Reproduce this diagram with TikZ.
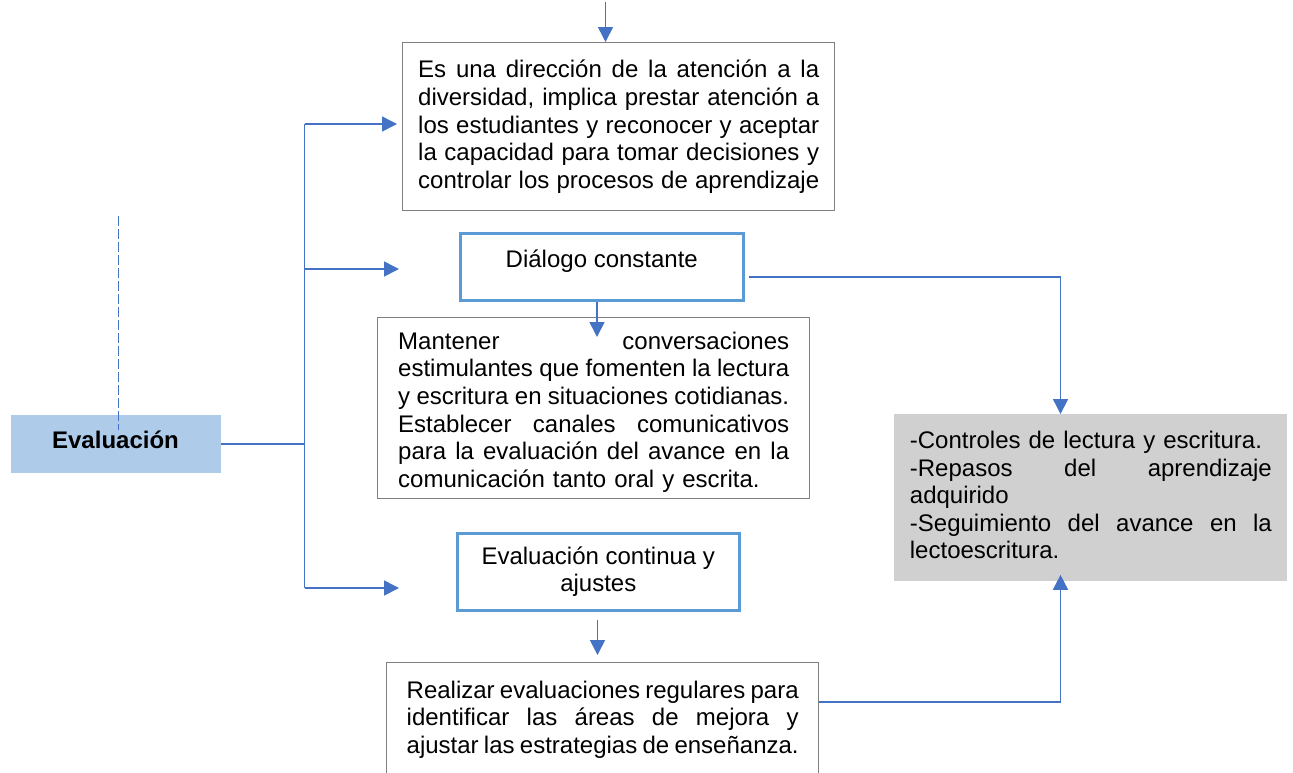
\documentclass[tikz,border=0pt]{standalone}
\usepackage{fontspec}
\setmainfont{Liberation Sans}
\usetikzlibrary{arrows.meta}

\definecolor{linkblue}{RGB}{68,114,196}
\definecolor{frameblue}{RGB}{91,155,213}
\definecolor{evalblue}{RGB}{174,204,234}
\definecolor{notegray}{RGB}{208,208,208}
\definecolor{framegray}{RGB}{127,127,127}

\newlength{\fitw}
\newcommand{\fitline}[1]{\makebox[\fitw][s]{\spaceskip=.278em plus 1fil minus .093em\relax#1}}

\tikzset{
  txt/.style={font=\fontsize{12pt}{13.8pt}\selectfont, anchor=north west, inner ysep=0pt},
  fitw/.style={text width=#1, execute at begin node={\setlength{\fitw}{#1}}},
  textbox/.style={txt, draw=framegray, line width=0.7pt, align=left, inner xsep=10.25pt},
  keybox/.style={txt, draw=frameblue, line width=1.3pt},
  notebox/.style={txt, fill=notegray, align=left},
  connector/.style={draw=linkblue, line width=0.8pt},
  arr/.style={connector, -{Triangle[length=7.5pt,width=7.5pt]}},
}

\begin{document}
\begin{tikzpicture}[x=0.5pt, y=-0.5pt]
  \useasboundingbox (0,0) rectangle (1293,772);

  \node[fill=evalblue, minimum width=105pt, inner ysep=0pt, text height=16.75pt, text depth=12.25pt,
        font=\fontsize{12pt}{13.8pt}\selectfont\bfseries] (eval) at (115.5,444) {Evaluación};

  \node[textbox, inner xsep=7.75pt, fitw=200.5pt, minimum height=84pt] (dir) at (402,42) {%
    \fitline{Es una dirección de la atención a la}\\
    \fitline{diversidad, implica prestar atención a}\\
    \fitline{los estudiantes y reconocer y aceptar}\\
    \fitline{la capacidad para tomar decisiones y}\\
    \fitline{controlar los procesos de aprendizaje}};
  \node[keybox, minimum width=141.5pt, text height=17.25pt, text depth=16.25pt] (dialogo) at (459,232) {Diálogo constante};
  \node[textbox, fitw=195.5pt, minimum height=90.5pt] (mantener) at (377,317) {%
    \fitline{\rule{0pt}{12.6pt}Mantener conversaciones}\\
    \fitline{estimulantes que fomenten la lectura}\\
    \fitline{y escritura en situaciones cotidianas.}\\
    \fitline{Establecer canales comunicativos}\\
    \fitline{para la evaluación del avance en la}\\
    comunicación tanto oral y escrita.};
  \node[keybox, minimum width=141pt, minimum height=38.5pt, align=center] (continua) at (456,532) {Evaluación continua y\\ajustes};
  \node[textbox, inner xsep=10pt, inner ysep=9pt, fitw=196pt, text depth=45pt] (realizar) at (386,662) {%
    \fitline{Realizar evaluaciones regulares para}\\
    \fitline{identificar las áreas de mejora y}\\
    \fitline{ajustar las estrategias de enseñanza.}};
  \node[notebox, inner xsep=7.75pt, fitw=181pt, minimum height=83.5pt] (repaso) at (894,414) {%
    -Controles de lectura y escritura.\\
    \fitline{-Repasos del aprendizaje}\\
    adquirido\\
    \fitline{-Seguimiento del avance en la}\\
    lectoescritura.\rule[-3pt]{0pt}{3pt}};

  \coordinate (top) at (605.5,2);
  \coordinate (trunk) at (304.5,124);
  \coordinate (trunkend) at (304.5,588);
  \coordinate (a2) at (399,269);
  \coordinate (a3) at (399,588);
  \coordinate (m1) at (597,337);
  \coordinate (c1) at (597.5,655);
  \coordinate (r1) at (1060.5,0);
  \coordinate (dash) at (118.5,216);

  % tronco de la izquierda
  \draw[connector] (eval.east) -- (eval.east -| trunk);
  \draw[connector] (trunk) -- (trunkend);
  \draw[connector, dash pattern=on 5pt off 1.5pt] (dash) -- ([yshift=7pt]dash |- eval.center);

  \draw[arr] (top) -- (top |- dir.north);
  \draw[arr] (trunk) -- ([xshift=-2.5pt]dir.west |- trunk);
  \draw[arr] (trunk |- a2) -- (a2);
  \draw[arr] (trunkend) -- (a3);
  \draw[arr] (dialogo.south -| m1) -- (m1); %
  \draw[arr] ([yshift=-4pt]continua.south -| c1) -- (c1); %
  \draw[arr] ([shift={(2pt,-5pt)}]dialogo.east) -| (r1 |- repaso.north);
  \draw[arr] ([yshift=-20pt]realizar.north east) -| ([yshift=3.5pt]r1 |- repaso.south);
\end{tikzpicture}
\end{document}
